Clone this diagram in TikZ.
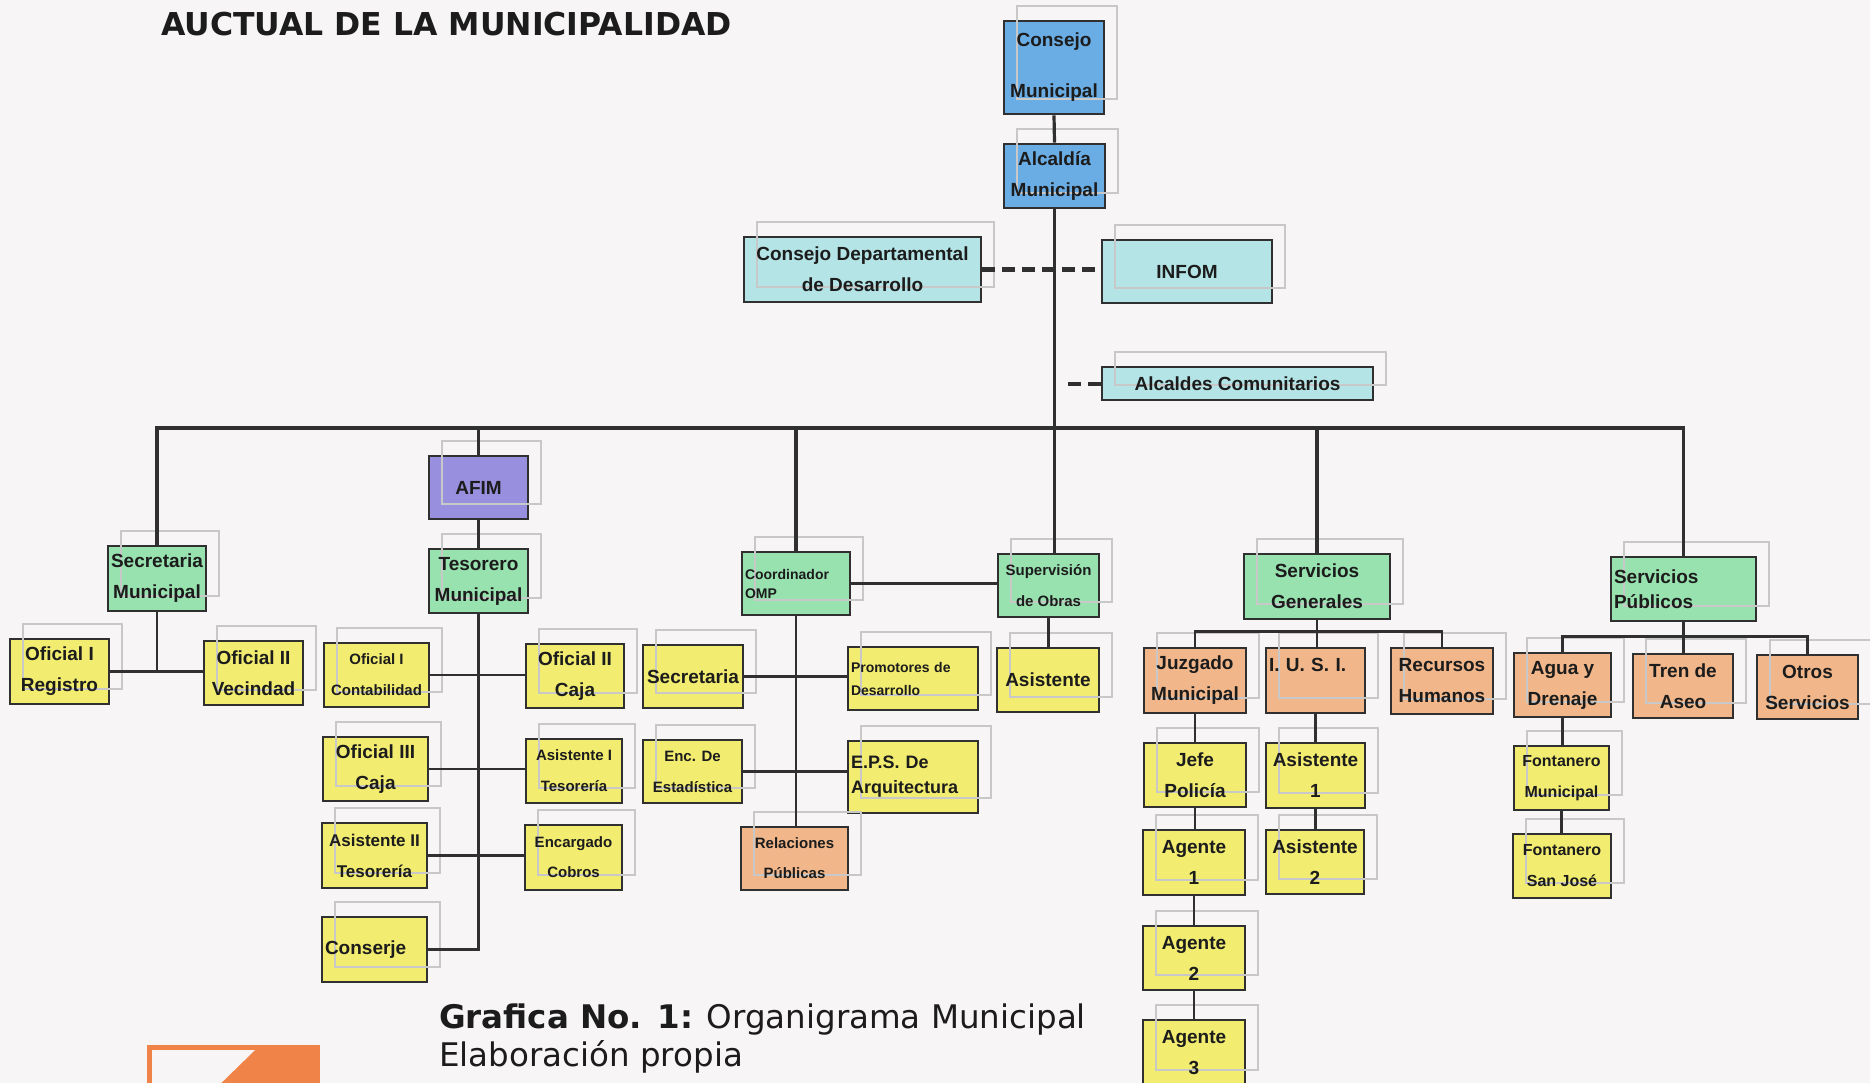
\documentclass[tikz,border=0pt]{standalone}
\usepackage{fontspec}
\setmainfont{Liberation Sans}
\newfontfamily\labelfont{DejaVu Sans}
\newcommand{\setfs}[2]{\fontsize{#1}{#2}\selectfont}

\definecolor{paper}{RGB}{247,245,246}
\definecolor{boxline}{RGB}{48,48,48}
\definecolor{ink}{RGB}{28,28,28}
\definecolor{ghost}{RGB}{200,200,200}
\definecolor{blueunit}{RGB}{106,172,228}
\definecolor{cyanunit}{RGB}{180,228,230}
\definecolor{greenunit}{RGB}{152,226,176}
\definecolor{violetunit}{RGB}{152,144,222}
\definecolor{yellowunit}{RGB}{242,237,112}
\definecolor{orangeunit}{RGB}{241,183,138}
\definecolor{logoorange}{RGB}{240,132,72}

\begin{document}
\begin{tikzpicture}[x=1pt,y=-1pt,
  unit/.style={draw=boxline, line width=2.9pt, rectangle, inner sep=3pt,
    align=center, text=ink, font=\bfseries\setfs{19}{31},
    postaction={draw=ghost, line width=1.1pt, transform canvas={xshift=13pt,yshift=15pt}}},
  dims/.style 2 args={minimum width=#1pt, minimum height=#2pt},
  leftbox/.style={align=left, text width=#1pt},
  cblue/.style={fill=blueunit}, ccyan/.style={fill=cyanunit},
  cgreen/.style={fill=greenunit}, cviolet/.style={fill=violetunit},
  cyellow/.style={fill=yellowunit}, corange/.style={fill=orangeunit},
  trunk/.style={draw=boxline, line width=3.2pt},
  link/.style={draw=boxline, line width=2.3pt},
  dashlink/.style={draw=boxline, line width=4pt, dash pattern=on 13pt off 7pt}]

\useasboundingbox (0,0) rectangle (1870,1083);
\fill[paper] (0,0) rectangle (1870,1083);

% titulo y pie
\node[anchor=base west, inner sep=0pt, text=ink, font=\labelfont\bfseries\setfs{31.5}{36}] (title) at (161,36) {AUCTUAL DE LA MUNICIPALIDAD};
\node[anchor=base west, inner sep=0pt, text=ink, font=\labelfont\setfs{32.5}{38}] (cap) at (439,1028) {\textbf{Grafica No. 1:} Organigrama Municipal};
\node[anchor=base west, inner sep=0pt, text=ink, font=\labelfont\setfs{32.5}{38}] (capb) at (439,1066) {Elaboración propia};

% logo
\fill[logoorange] (147,1045) rectangle (320,1090);
\fill[paper] (152,1050) -- (255,1050) -- (214,1090) -- (152,1090) -- cycle;

% concejo y alcaldia
\node[unit, cblue, dims={100}{93}] (cm) at (1054,67.5) {Consejo\\[20pt]Municipal};
\node[unit, cblue, dims={101}{64}] (al) at (1054.5,176) {Alcaldía\\Municipal};
\node[unit, ccyan, dims={237}{65}] (cdd) at (862.5,269.5) {Consejo Departamental\\de Desarrollo};
\node[unit, ccyan, dims={170}{63}] (infom) at (1187,271.5) {INFOM};
\node[unit, ccyan, dims={271}{33}, inner sep=1pt] (alc) at (1237.5,383.5) {Alcaldes Comunitarios};

% segundo nivel
\node[unit, cgreen, dims={98}{65}] (sec) at (157,578.5) {Secretaria\\Municipal};
\node[unit, cviolet, dims={99}{63}] (afim) at (478.5,487.5) {AFIM};
\node[unit, cgreen, dims={99}{64}] (tes) at (478.5,581) {Tesorero\\Municipal};
\node[unit, cgreen, dims={108}{63}, leftbox=102, font=\bfseries\setfs{14}{19}] (omp) at (796,583.5) {Coordinador\\OMP};
\node[unit, cgreen, dims={101}{63}, font=\bfseries\setfs{15}{31}] (sup) at (1048.5,585.5) {Supervisión\\de Obras};
\node[unit, cgreen, dims={146}{65}] (sg) at (1317,586.5) {Servicios\\Generales};
\node[unit, cgreen, dims={145}{64}, leftbox=139, font=\bfseries\setfs{19}{25}] (sp) at (1683.5,589) {Servicios\\Públicos};

% secretaria y tesoreria
\node[unit, cyellow, dims={99}{65}] (of1) at (59.5,671.5) {Oficial I\\Registro};
\node[unit, cyellow, dims={99}{64}] (of2) at (253.5,673) {Oficial II\\Vecindad};
\node[unit, cyellow, dims={105}{64}, font=\bfseries\setfs{15}{31}] (ofc) at (376.5,675) {Oficial I\\Contabilidad};
\node[unit, cyellow, dims={98}{64}] (oc2) at (575,676) {Oficial II\\Caja};
\node[unit, cyellow, dims={105}{64}] (oc3) at (375.5,769) {Oficial III\\Caja};
\node[unit, cyellow, dims={96}{64}, font=\bfseries\setfs{15}{31}] (at1) at (574,771) {Asistente I\\Tesorería};
\node[unit, cyellow, dims={105}{65}, font=\bfseries\setfs{17}{31}] (at2) at (374.5,855.5) {Asistente II\\Tesorería};
\node[unit, cyellow, dims={97}{65}, font=\bfseries\setfs{15}{30}] (enc) at (573.5,857.5) {Encargado\\Cobros};
\node[unit, cyellow, dims={105}{65}, leftbox=99] (con) at (374.5,949.5) {Conserje};

% oficina de planificacion
\node[unit, cyellow, dims={100}{63}] (sec2) at (693,676.5) {Secretaria};
\node[unit, cyellow, dims={130}{63}, leftbox=124, font=\bfseries\setfs{14}{23}] (pro) at (913,678.5) {\makebox[124pt][s]{Promotores de}\\Desarrollo};
\node[unit, cyellow, dims={99}{63}, font=\bfseries\setfs{15}{31}] (enc2) at (692.5,771.5) {Enc. De\\Estadística};
\node[unit, cyellow, dims={130}{72}, leftbox=124, font=\bfseries\setfs{18}{25}] (eps) at (913,777) {\makebox[124pt][s]{E.P.S. De}\\Arquitectura};
\node[unit, corange, dims={107}{63}, font=\bfseries\setfs{15}{30}] (rp) at (794.5,858.5) {Relaciones\\Públicas};
\node[unit, cyellow, dims={102}{64}] (asis) at (1048,680) {Asistente};

% servicios generales
\node[unit, corange, dims={102}{65}] (juz) at (1195,680.5) {Juzgado\\Municipal};
\node[unit, corange, dims={99}{65}, leftbox=93] (iusi) at (1315.5,680.5) {I. U. S. I.\\~};
\node[unit, corange, dims={102}{66}] (rh) at (1442,681) {Recursos\\Humanos};
\node[unit, cyellow, dims={102}{64}] (jefe) at (1195,775) {Jefe\\Policía};
\node[unit, cyellow, dims={102}{65}] (ag1) at (1194,862.5) {Agente\\1};
\node[unit, cyellow, dims={102}{64}] (ag2) at (1194,958) {Agente\\2};
\node[unit, cyellow, dims={102}{65}] (ag3) at (1194,1052.5) {Agente\\3};
\node[unit, cyellow, dims={99}{65}] (as1) at (1315.5,775.5) {Asistente\\1};
\node[unit, cyellow, dims={98}{64}] (as2) at (1315,862) {Asistente\\2};

% servicios publicos
\node[unit, corange, dims={97}{64}] (agua) at (1562.5,685) {Agua y\\Drenaje};
\node[unit, corange, dims={100}{64}] (tren) at (1683,686) {Tren de\\Aseo};
\node[unit, corange, dims={101}{64}] (otros) at (1807.5,687) {Otros\\Servicios};
\node[unit, cyellow, dims={95}{64}, font=\bfseries\setfs{16}{31}] (fm) at (1561.5,778) {Fontanero\\Municipal};
\node[unit, cyellow, dims={98}{64}, font=\bfseries\setfs{16}{31}] (fsj) at (1562,866) {Fontanero\\San José};

% lineas
\coordinate (bus) at (0,428);
\draw[trunk] (cm.south) -- (al.north);
\draw[trunk] (al.south) -- (al.south |- sup.north);
\draw[trunk] (sec.north) -- (sec.north |- bus) -- (sp.north |- bus) -- (sp.north);
\draw[trunk] (afim.north) -- (afim.north |- bus);
\draw[trunk] (omp.north) -- (omp.north |- bus);
\draw[trunk] (sg.north) -- (sg.north |- bus);
\draw[dashlink] (cdd.east) -- (cdd.east -| infom.west);
\draw[dashlink] (alc.west) -- ++(-40,0);
\draw[trunk] (omp.east) -- (omp.east -| sup.west);
\draw[trunk] (afim.south) -- (tes.north);

\draw[link] (sec.south) -- (sec.south |- of1.east);
\draw[link] (of1.east) -- (of1.east -| of2.west);
\draw[link] (tes.south) |- (con.east);
\draw[link] (ofc.east) -- (ofc.east -| oc2.west);
\draw[link] (oc3.east) -- (oc3.east -| at1.west);
\draw[link] (at2.east) -- (at2.east -| enc.west);
\draw[link] (omp.south) -- (omp.south |- rp.north);
\draw[link] (sec2.east) -- (sec2.east -| pro.west);
\draw[link] (enc2.east) -- (enc2.east -| eps.west);
\draw[link] (sup.south) -- (sup.south |- asis.north);

\draw[link] (sg.south) -- (sg.south |- iusi.north);
\draw[link] (juz.north) -- ++(0,-15) -| (rh.north);
\draw[link] (juz.south) -- (juz.south |- jefe.north);
\draw[link] (jefe.south) -- (jefe.south |- ag1.north);
\draw[link] (ag1.south) -- (ag1.south |- ag2.north);
\draw[link] (ag2.south) -- (ag2.south |- ag3.north);
\draw[link] (iusi.south) -- (iusi.south |- as1.north);
\draw[link] (as1.south) -- (as1.south |- as2.north);

\draw[link] (agua.north) -- ++(0,-15) -| (otros.north);
\draw[link] (sp.south) -- (sp.south |- tren.north);
\draw[link] (agua.south) -- (agua.south |- fm.north);
\draw[link] (fm.south) -- (fm.south |- fsj.north);
\end{tikzpicture}
\end{document}
